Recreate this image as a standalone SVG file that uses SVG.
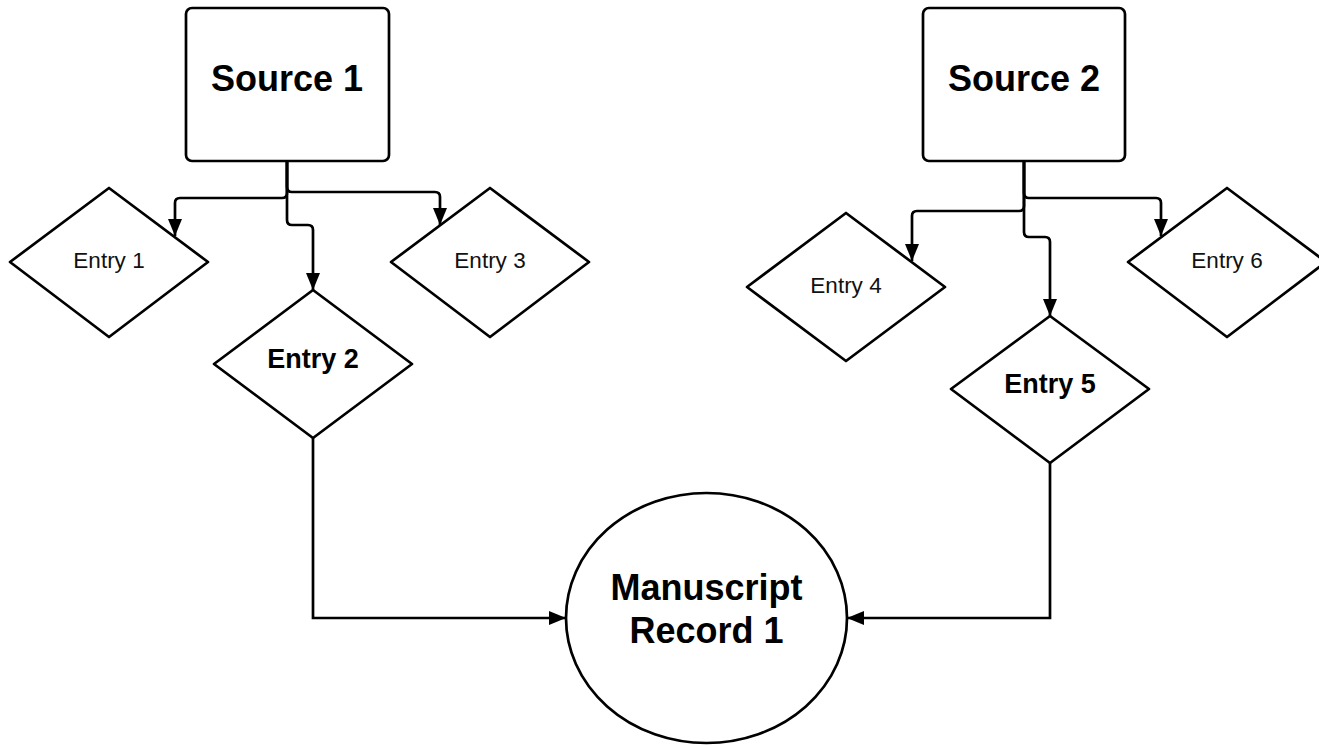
<svg xmlns="http://www.w3.org/2000/svg" width="1319" height="745" viewBox="0 0 1319 745">
<style>
.node{fill:#fff;stroke:#000;stroke-width:2.7;stroke-linejoin:round}
.conn{fill:none;stroke:#000;stroke-width:2.7}
.big{font-family:"Liberation Sans",Arial,sans-serif;font-weight:bold;font-size:36px;text-anchor:middle;fill:#000}
.bold{font-family:"Liberation Sans",Arial,sans-serif;font-weight:bold;font-size:27px;text-anchor:middle;fill:#000}
.reg{font-family:"Liberation Sans",Arial,sans-serif;font-size:22.5px;text-anchor:middle;fill:#111}
</style>
<defs>
<marker id="arr" markerUnits="userSpaceOnUse" markerWidth="18" markerHeight="15" refX="17" refY="7" orient="auto" viewBox="0 0 18 14">
<path d="M0,0 L17,7 L0,14 z" fill="#000"/>
</marker>
</defs>
<g id="connectors">
<path class="conn" marker-end="url(#arr)" d="M287,161 L287,193 Q287,198 282,198 L180,198 Q175,198 175,203 L175,236"/>
<path class="conn" marker-end="url(#arr)" d="M287,161 L287,187 Q287,192 292,192 L435,192 Q440,192 440,197 L440,225"/>
<path class="conn" marker-end="url(#arr)" d="M287,161 L287,220 Q287,225 292,225 L308,225 Q313,225 313,230 L313,290"/>
<path class="conn" marker-end="url(#arr)" d="M1024,161 L1024,206 Q1024,211 1019,211 L917,211 Q912,211 912,216 L912,261"/>
<path class="conn" marker-end="url(#arr)" d="M1024,161 L1024,193 Q1024,198 1029,198 L1156,198 Q1161,198 1161,203 L1161,236"/>
<path class="conn" marker-end="url(#arr)" d="M1024,161 L1024,232 Q1024,237 1029,237 L1045,237 Q1050,237 1050,242 L1050,316"/>
<path class="conn" marker-end="url(#arr)" d="M313,438 L313,618 L566,618"/>
<path class="conn" marker-end="url(#arr)" d="M1050,463 L1050,618 L847,618"/>
</g>
<g id="source1">
<rect class="node" x="186" y="8" width="203" height="153" rx="6"/>
<text class="big" x="287" y="91">Source 1</text>
</g>
<g id="source2">
<rect class="node" x="923" y="8" width="202" height="153" rx="6"/>
<text class="big" x="1024" y="91">Source 2</text>
</g>
<g id="entry1">
<path class="node" d="M109,188 L208,262 L109,337 L10,262 Z"/>
<text class="reg" x="109" y="268">Entry 1</text>
</g>
<g id="entry2">
<path class="node" d="M313,290 L412,364 L313,438 L214,364 Z"/>
<text class="bold" x="313" y="368">Entry 2</text>
</g>
<g id="entry3">
<path class="node" d="M490,188 L589,262 L490,337 L391,262 Z"/>
<text class="reg" x="490" y="268">Entry 3</text>
</g>
<g id="entry4">
<path class="node" d="M846,213 L945,287 L846,361 L747,287 Z"/>
<text class="reg" x="846" y="293">Entry 4</text>
</g>
<g id="entry5">
<path class="node" d="M1050,316 L1149,389 L1050,463 L951,389 Z"/>
<text class="bold" x="1050" y="393">Entry 5</text>
</g>
<g id="entry6">
<path class="node" d="M1227,188 L1326,262 L1227,337 L1128,262 Z"/>
<text class="reg" x="1227" y="268">Entry 6</text>
</g>
<g id="manuscript">
<ellipse class="node" cx="706.5" cy="618" rx="140.5" ry="125"/>
<text class="big" x="706.5" y="600">Manuscript</text>
<text class="big" x="706.5" y="643">Record 1</text>
</g>
</svg>
